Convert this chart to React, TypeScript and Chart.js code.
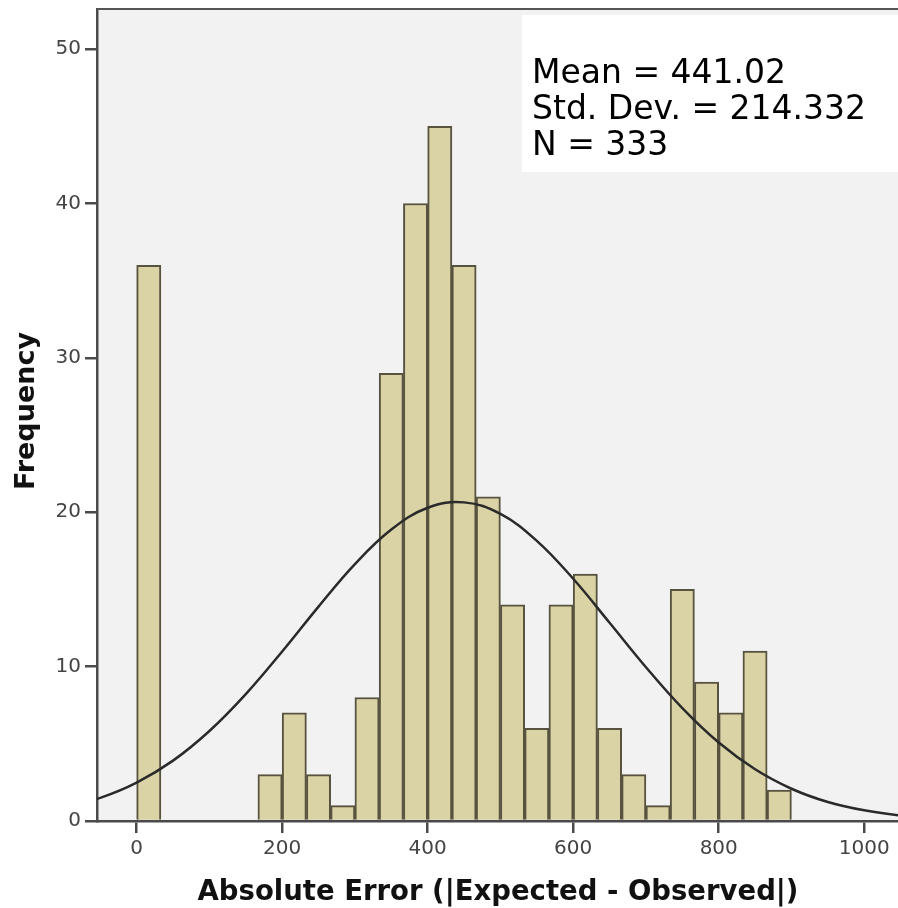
import React, { useEffect, useRef } from "react";
import { Chart, registerables } from "chart.js";

Chart.register(...registerables);

// Histogram bins (width in x units) and their counts, starting at 0
const binWidth = 33.33;
const binCounts = [36, 0, 0, 0, 0, 3, 7, 3, 1, 8, 29, 40, 45, 36, 21, 14, 6, 14, 16, 6, 3, 1, 15, 9, 7, 11, 2];

// Fitted normal curve
const curveX = [-100, -50, 0, 50, 100, 150, 200, 250, 300, 350, 400, 450, 500, 550, 600, 650, 700, 750, 800, 850, 900, 950, 1000, 1050, 1100];
const curveY = [0.85, 1.5, 2.49, 3.91, 5.83, 8.22, 10.98, 13.89, 16.64, 18.88, 20.29, 20.64, 19.89, 18.15, 15.69, 12.84, 9.96, 7.31, 5.08, 3.35, 2.09, 1.23, 0.69, 0.36, 0.18];

const xTicks = [0, 200, 400, 600, 800, 1000];
const yTicks = [0, 10, 20, 30, 40, 50];

const statLines = ["Mean = 441.02", "Std. Dev. = 214.332", "N = 333"];
const xTitle = "Absolute Error (|Expected - Observed|)";
const yTitle = "Frequency";

const W = 898;
const H = 908;

export default function App() {
  const ref = useRef<HTMLCanvasElement | null>(null);

  useEffect(() => {
    if (!ref.current) return;

    const decor = {
      id: "decor",
      beforeDraw(chart: any) {
        const { ctx, chartArea } = chart;
        ctx.save();
        ctx.fillStyle = "#ffffff";
        ctx.fillRect(0, 0, chart.width, chart.height);
        ctx.fillStyle = "#f2f2f2";
        ctx.fillRect(chartArea.left, chartArea.top, chartArea.right - chartArea.left, chartArea.bottom - chartArea.top);
        ctx.restore();
      },
      afterDraw(chart: any) {
        const { ctx, chartArea } = chart;
        ctx.save();
        // top frame
        ctx.strokeStyle = "#555555";
        ctx.lineWidth = 2;
        ctx.beginPath();
        ctx.moveTo(chartArea.left, chartArea.top);
        ctx.lineTo(chartArea.right, chartArea.top);
        ctx.stroke();

        // stats box
        ctx.fillStyle = "#ffffff";
        ctx.fillRect(522, 15, W - 522, 157);
        ctx.fillStyle = "#000000";
        ctx.font = "33px 'DejaVu Sans'";
        ctx.textAlign = "left";
        ctx.textBaseline = "alphabetic";
        const baselines = [83, 119, 155];
        statLines.forEach((t, i) => ctx.fillText(t, 532, baselines[i]));

        // axis titles
        ctx.fillStyle = "#111111";
        ctx.font = "bold 27.5px 'DejaVu Sans'";
        ctx.textAlign = "center";
        ctx.textBaseline = "alphabetic";
        ctx.fillText(xTitle, 498, 900);

        ctx.translate(34, 411);
        ctx.rotate(-Math.PI / 2);
        ctx.font = "bold 27px 'DejaVu Sans'";
        ctx.fillText(yTitle, 0, 0);
        ctx.restore();
      },
    };

    const chart = new Chart(ref.current, {
      type: "bar",
      data: {
        datasets: [
          {
            type: "line",
            data: curveX.map((x, i) => ({ x, y: curveY[i] })),
            borderColor: "#2a2a2a",
            borderWidth: 2.5,
            pointRadius: 0,
            tension: 0.4,
            fill: false,
            order: 0,
          } as any,
          {
            type: "bar",
            data: binCounts.map((c, i) => ({ x: (i + 0.5) * binWidth, y: c })),
            backgroundColor: "#dad3a6",
            borderColor: "#57533f",
            borderWidth: 2,
            barPercentage: 1,
            categoryPercentage: 1,
            order: 1,
          } as any,
        ],
      },
      options: {
        responsive: false,
        animation: false,
        devicePixelRatio: 1,
        layout: { padding: { top: 9, right: 0, left: 0, bottom: 0 } },
        plugins: {
          legend: { display: false },
          tooltip: { enabled: false },
        },
        scales: {
          x: {
            type: "linear",
            min: -54.5,
            max: 1046.4,
            offset: false,
            grid: { offset: false, drawOnChartArea: false, drawTicks: true, tickLength: 12, color: "#4a4a4a", lineWidth: 2.5 },
            border: { display: true, color: "#4a4a4a", width: 2.5 },
            ticks: {
              font: { family: "'DejaVu Sans'", size: 20 },
              color: "#444444",
              padding: 4,
              maxRotation: 0,
              autoSkip: false,
              callback: (v: any) => String(v),
            },
            afterBuildTicks: (s: any) => {
              s.ticks = xTicks.map((v) => ({ value: v }));
            },
            afterFit: (s: any) => {
              s.height = 87;
              s.paddingLeft = 0;
              s.paddingRight = 0;
            },
          },
          y: {
            type: "linear",
            min: 0,
            max: 52.6,
            grid: { drawOnChartArea: false, drawTicks: true, tickLength: 12, color: "#4a4a4a", lineWidth: 2.5 },
            border: { display: true, color: "#4a4a4a", width: 2.5 },
            ticks: {
              font: { family: "'DejaVu Sans'", size: 20 },
              color: "#444444",
              padding: 4,
              autoSkip: false,
              callback: (v: any) => String(v),
            },
            afterBuildTicks: (s: any) => {
              s.ticks = yTicks.map((v) => ({ value: v }));
            },
            afterFit: (s: any) => {
              s.width = 97;
              s.paddingTop = 0;
              s.paddingBottom = 0;
            },
          },
        },
      } as any,
      plugins: [decor],
    });

    return () => chart.destroy();
  }, []);

  return (
    <div style={{ position: "fixed", left: 0, top: 0, width: W, height: H, background: "#fff" }}>
      <canvas ref={ref} width={W} height={H} style={{ width: W, height: H, display: "block" }} />
    </div>
  );
}
